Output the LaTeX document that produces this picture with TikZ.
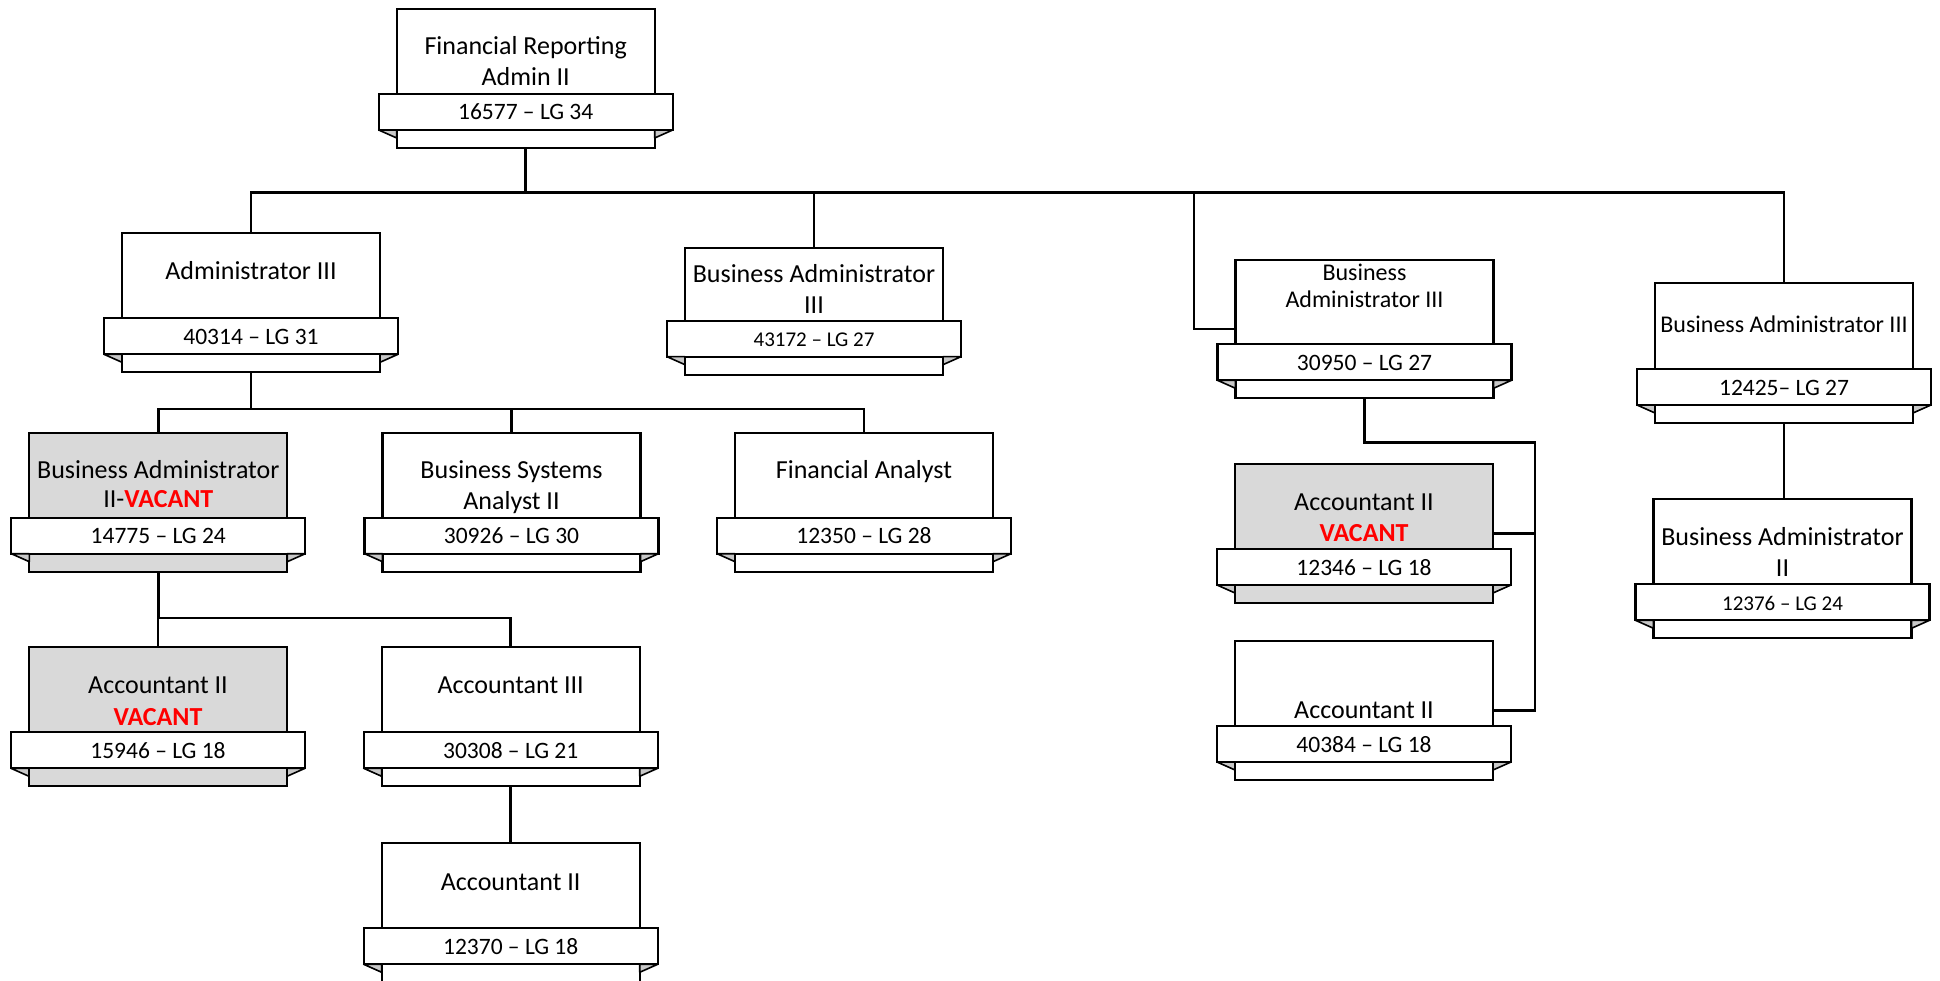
\documentclass[tikz,border=0pt]{standalone}
\usepackage{fontspec}
\setmainfont{Carlito}
\usetikzlibrary{calc}
\definecolor{vacgray}{HTML}{D9D9D9}
\definecolor{vacred}{HTML}{FF0000}
\definecolor{foldgray}{HTML}{C8C8C8}
\tikzset{
  mainbox/.style={draw=black, line width=2.2pt, minimum width=258pt, inner sep=0pt, outer sep=0pt},
  ribbonbox/.style={draw=black, fill=white, line width=2.2pt, minimum width=294pt, minimum height=36pt,
    inner sep=0pt, outer sep=0pt, text height=16pt, text depth=0pt, font=\fontsize{23.5}{28}\selectfont},
  smallrib/.style={font=\fontsize{21}{25}\selectfont},
  normrib/.style={},
  foldtri/.style={draw=black, fill=foldgray, line width=1.6pt, line join=round},
  ttl/.style={anchor=base, inner sep=0pt, font=\fontsize{26}{31}\selectfont},
  ttls/.style={anchor=base, inner sep=0pt, font=\fontsize{24}{29}\selectfont},
  conn/.style={draw=black, line width=2.6pt},
  vac/.style={text=vacred, font=\fontsize{26}{31}\selectfont\bfseries}
}
% name, left, top, fill, offset, ribbon style, ribbon text
\newcommand{\orgbox}[7]{%
  \node[mainbox, fill=#4, minimum height={#5+54}, anchor=north west] (#1) at (#2,#3) {};
  \node[ribbonbox, #6, anchor=north] (#1r) at ($(#1.north)+(0,#5)$) {#7};
  \draw[foldtri] (#1r.south west) -- (#1r.south west -| #1.west) -- ++(0,8) -- cycle;
  \draw[foldtri] (#1r.south east) -- (#1r.south east -| #1.east) -- ++(0,8) -- cycle;
}
\begin{document}
\begin{tikzpicture}[x=1pt, y=-1pt]
\useasboundingbox (0,0) rectangle (1940,981);
\clip (0,0) rectangle (1940,981);

\coordinate (h1) at (526,192.3);
\coordinate (j4) at (1194,192.3);

% ---------- boxes ----------
\orgbox{b1}{396.7}{9}{white}{85}{normrib}{16577 – LG 34}
\orgbox{b2}{122}{233.3}{white}{85}{normrib}{40314 – LG 31}
\orgbox{b3}{685}{247.7}{white}{73}{smallrib}{43172 – LG 27}
\orgbox{b4}{1235.5}{260}{white}{84.3}{normrib}{30950 – LG 27}
\orgbox{b5}{1655}{283.3}{white}{85.7}{normrib}{12425– LG 27}
\orgbox{b6}{29.3}{432.7}{vacgray}{85}{normrib}{14775 – LG 24}
\orgbox{b7}{382.5}{432.7}{white}{85}{normrib}{30926 – LG 30}
\orgbox{b8}{735}{432.7}{white}{85}{normrib}{12350 – LG 28}
\orgbox{b9}{1235}{464}{vacgray}{85}{normrib}{12346 – LG 18}
\orgbox{b10}{1235}{641}{white}{85}{normrib}{40384 – LG 18}
\orgbox{b11}{1653.5}{499.3}{white}{85}{smallrib}{12376 – LG 24}
\orgbox{b12}{29}{647.3}{vacgray}{85}{normrib}{15946 – LG 18}
\orgbox{b13}{381.7}{647.3}{white}{85}{normrib}{30308 – LG 21}
\orgbox{b14}{381.7}{843.3}{white}{85}{normrib}{12370 – LG 18}

% ---------- titles ----------
\node[ttl] (b1a) at ($(b1.north)+(0,46)$) {Financial Reporting};
\node[ttl] (b1b) at ($(b1.north)+(0,77)$) {Admin II};
\node[ttl] (b2a) at ($(b2.north)+(0,46)$) {Administrator III};
\node[ttl] (b3a) at ($(b3.north)+(0,34.6)$) {Business Administrator};
\node[ttl] (b3b) at ($(b3.north)+(0,65.6)$) {III};
\node[ttls] (b4a) at ($(b4.north)+(0,20.7)$) {Business};
\node[ttls] (b4b) at ($(b4.north)+(0,47.3)$) {Administrator III};
\node[ttls] (b5a) at ($(b5.north)+(0,49.4)$) {Business Administrator III};
\node[ttl] (b6a) at ($(b6.north)+(0,45.6)$) {Business Administrator};
\node[ttl] (b6b) at ($(b6.north)+(0,74.6)$) {II-{\bfseries\color{vacred}VACANT}};
\node[ttl] (b7a) at ($(b7.north)+(0,46)$) {Business Systems};
\node[ttl] (b7b) at ($(b7.north)+(0,77)$) {Analyst II};
\node[ttl] (b8a) at ($(b8.north)+(0,46)$) {Financial Analyst};
\node[ttl] (b9a) at ($(b9.north)+(0,46)$) {Accountant II};
\node[ttl, vac] (b9b) at ($(b9.north)+(0,77)$) {VACANT};
\node[ttl] (b10a) at ($(b10.north)+(0,77.3)$) {Accountant II};
\node[ttl] (b11a) at ($(b11.north)+(0,45.7)$) {Business Administrator};
\node[ttl] (b11b) at ($(b11.north)+(0,77.4)$) {II};
\node[ttl] (b12a) at ($(b12.north)+(0,45.7)$) {Accountant II};
\node[ttl, vac] (b12b) at ($(b12.north)+(0,77.7)$) {VACANT};
\node[ttl] (b13a) at ($(b13.north)+(0,45.7)$) {Accountant III};
\node[ttl] (b14a) at ($(b14.north)+(0,46.7)$) {Accountant II};

% ---------- connectors ----------
\draw[conn] (b1.south) -- (b1.south |- h1);
\draw[conn] (b2.north) -- (b2.north |- h1) -- (b5.north |- h1) -- (b5.north);
\draw[conn] (b3.north) -- (b3.north |- h1);
\draw[conn] (j4) |- (b4.west);

\coordinate (h2) at ($(b2.south)+(0,36.7)$);
\draw[conn] (b6.north) -- (b6.north |- h2) -- (b8.north |- h2) -- (b8.north);
\draw[conn] (b2.south) -- (h2);
\draw[conn] (b7.north) -- (b7.north |- h2);

\coordinate (h3) at ($(b6.south)+(0,46.4)$);
\draw[conn] (b12.north) -- (b12.north |- h3) -- (b13.north |- h3) -- (b13.north);
\draw[conn] (b6.south) -- (h3);
\draw[conn] (b13.south) -- (b14.north);

\coordinate (sp) at (1535,442.7);
\draw[conn] (b4.south) |- (sp) |- (b10.east);
\draw[conn] (sp |- b9.east) -- (b9.east);

\draw[conn] (b5.south) -- (b5.south |- b11.north);
\end{tikzpicture}
\end{document}
